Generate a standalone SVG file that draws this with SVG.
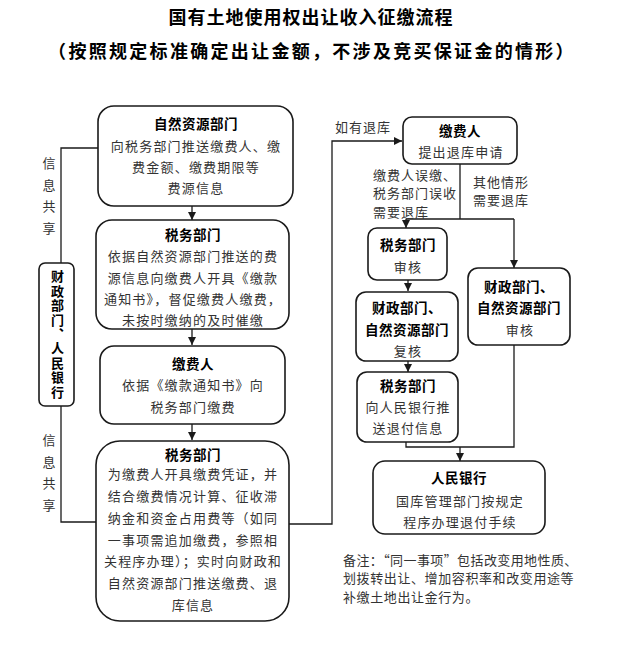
<svg xmlns="http://www.w3.org/2000/svg" width="621" height="646" viewBox="0 0 621 646">
<style>
text{font-family:"Liberation Serif","Noto Sans CJK SC",serif;}
.t{font-size:18px;font-weight:bold;fill:#000;text-anchor:middle;}
.h{font-size:13.5px;font-weight:bold;fill:#000;text-anchor:middle;letter-spacing:0.5px;}
.b{font-size:13px;fill:#333;text-anchor:middle;letter-spacing:1.2px;}
.l{font-size:13px;fill:#333;letter-spacing:1px;}
.v{font-size:13px;fill:#333;writing-mode:vertical-rl;letter-spacing:8.5px;}
.cjk{font-family:"Noto Sans CJK SC",sans-serif;}
.box{fill:#fff;stroke:#1a1a1a;stroke-width:1.6;}
.c{fill:none;stroke:#1a1a1a;stroke-width:1.3;}
</style>
<defs>
<marker id="ar" viewBox="0 0 8 8" refX="8" refY="4" markerWidth="8" markerHeight="8" markerUnits="userSpaceOnUse" orient="auto">
<path d="M0,0 L8,4 L0,8 z" fill="#1a1a1a"/>
</marker>
</defs>
<rect width="621" height="646" fill="#fff"/>
<text class="t" x="311" y="24" style="letter-spacing:1px">国有土地使用权出让收入征缴流程</text>
<text class="t" x="312" y="58" style="letter-spacing:2.3px">（按照规定标准确定出让金额，不涉及竞买保证金的情形）</text>

<g id="connectors">
<path class="c" d="M192,206 V220" marker-end="url(#ar)"/>
<path class="c" d="M192,329 V345" marker-end="url(#ar)"/>
<path class="c" d="M192,424 V440" marker-end="url(#ar)"/>
<path class="c" d="M98,148 H61 V263"/>
<path class="c" d="M61,406 V522 H96"/>
<path class="c" d="M289,524 H332 V141 H402" marker-end="url(#ar)"/>
<path class="c" d="M460,164 V219"/>
<path class="c" d="M406,219 H514"/>
<path class="c" d="M406,219 V228" marker-end="url(#ar)"/>
<path class="c" d="M514,219 V268" marker-end="url(#ar)"/>
<path class="c" d="M408,280 V291" marker-end="url(#ar)"/>
<path class="c" d="M408,361 V372" marker-end="url(#ar)"/>
<path class="c" d="M406,442 V447 H514 V345"/>
<path class="c" d="M460,447 V461" marker-end="url(#ar)"/>
<text class="v" x="48" y="157">信息共享</text>
<text class="v" x="48" y="434">信息共享</text>
<text class="l" x="335" y="132">如有退库</text>
<text class="l" x="373" y="180">缴费人误缴、</text>
<text class="l" x="373" y="198">税务部门误收</text>
<text class="l" x="373" y="217">需要退库</text>
<text class="l" x="473" y="187">其他情形</text>
<text class="l" x="473" y="205">需要退库</text>
</g>

<g id="side">
<rect class="box" x="39" y="263" width="35" height="143" rx="6"/>
<text x="56.5" y="270" style="font-size:13px;font-weight:bold;fill:#000;writing-mode:vertical-rl;letter-spacing:1.4px">财政部门、人民银行</text>
</g>

<g id="n1">
<rect class="box" x="98" y="106" width="195" height="100" rx="16"/>
<text class="h" x="196" y="129">自然资源部门</text>
<text class="b" x="196" y="151">向税务部门推送缴费人、缴</text>
<text class="b" x="196" y="172">费金额、缴费期限等</text>
<text class="b" x="196" y="193">费源信息</text>
</g>

<g id="n2">
<rect class="box" x="96" y="220" width="193" height="109" rx="16"/>
<text class="h" x="193" y="240">税务部门</text>
<text class="b" x="193" y="261">依据自然资源部门推送的费</text>
<text class="b" x="193" y="283">源信息向缴费人开具《缴款</text>
<text class="b" x="193" y="304">通知书》，督促缴费人缴费，</text>
<text class="b" x="193" y="325">未按时缴纳的及时催缴</text>
</g>

<g id="n3">
<rect class="box" x="100" y="346" width="185" height="78" rx="14"/>
<text class="h" x="193" y="369">缴费人</text>
<text class="b" x="193" y="390">依据《缴款通知书》向</text>
<text class="b" x="193" y="412">税务部门缴费</text>
</g>

<g id="n4">
<rect class="box" x="96" y="441" width="193" height="180" rx="24"/>
<text class="h" x="193" y="460">税务部门</text>
<text class="b" x="193" y="479">为缴费人开具缴费凭证，并</text>
<text class="b" x="193" y="501">结合缴费情况计算、征收滞</text>
<text class="b" x="193" y="523">纳金和资金占用费等（如同</text>
<text class="b" x="193" y="545">一事项需追加缴费，参照相</text>
<text class="b" x="193" y="566">关程序办理）；实时向财政和</text>
<text class="b" x="193" y="588">自然资源部门推送缴费、退</text>
<text class="b" x="193" y="610">库信息</text>
</g>

<g id="r1">
<rect class="box" x="403" y="117" width="114" height="47" rx="9"/>
<text class="h" x="460" y="136">缴费人</text>
<text class="b" x="461" y="157">提出退库申请</text>
</g>

<g id="r2">
<rect class="box" x="368" y="228" width="79" height="52" rx="9"/>
<text class="h" x="408" y="250">税务部门</text>
<text class="b" x="408" y="272">审核</text>
</g>

<g id="r3">
<rect class="box" x="356" y="292" width="102" height="69" rx="10"/>
<text class="h" x="407" y="313">财政部门、</text>
<text class="h" x="407" y="335">自然资源部门</text>
<text class="b" x="408" y="356">复核</text>
</g>

<g id="r4">
<rect class="box" x="357" y="372" width="101" height="70" rx="10"/>
<text class="h" x="408" y="391">税务部门</text>
<text class="b" x="408" y="412">向人民银行推</text>
<text class="b" x="408" y="433">送退付信息</text>
</g>

<g id="r5">
<rect class="box" x="468" y="268" width="102" height="77" rx="10"/>
<text class="h" x="519" y="292">财政部门、</text>
<text class="h" x="519" y="313">自然资源部门</text>
<text class="b" x="520" y="335">审核</text>
</g>

<g id="r6">
<rect class="box" x="373" y="461" width="172" height="73" rx="12"/>
<text class="h" x="459" y="483">人民银行</text>
<text class="b" x="460" y="506">国库管理部门按规定</text>
<text class="b" x="460" y="527">程序办理退付手续</text>
</g>

<g id="note">
<text class="l cjk" x="343" y="565" style="letter-spacing:0.4px">备注：“同一事项”包括改变用地性质、</text>
<text class="l" x="343" y="583" style="letter-spacing:0.6px">划拨转出让、增加容积率和改变用途等</text>
<text class="l" x="343" y="602" style="letter-spacing:0.6px">补缴土地出让金行为。</text>
</g>
</svg>
